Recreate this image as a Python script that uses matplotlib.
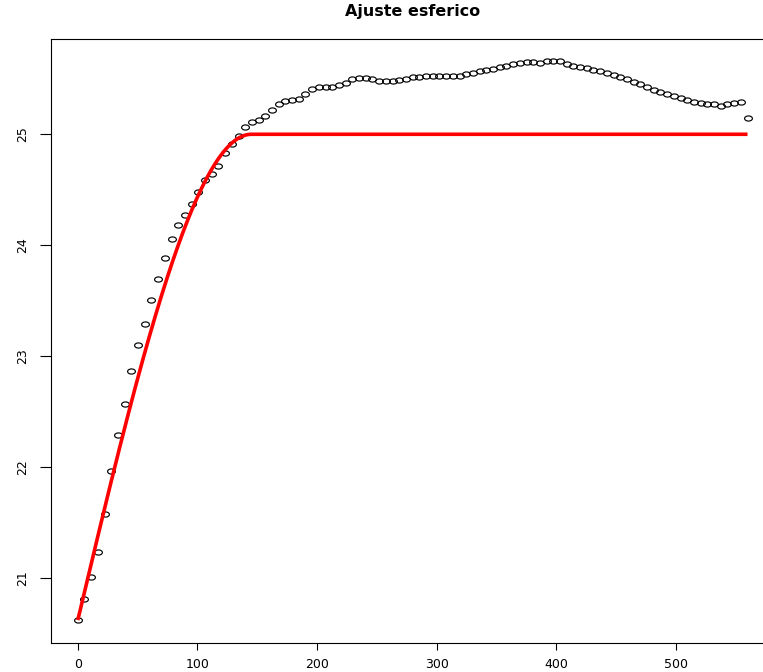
import numpy as np
import matplotlib
matplotlib.use("Agg")
import matplotlib.pyplot as plt
from matplotlib.path import Path

# Empirical semivariogram: lag distances and semivariances
lag = [
    0.0, 5.6, 11.2, 16.8, 22.4, 28.0, 33.6, 39.2, 44.8, 50.4,
    56.0, 61.6, 67.2, 72.8, 78.4, 84.0, 89.6, 95.2, 100.8, 106.4,
    112.0, 117.6, 123.2, 128.8, 134.4, 140.0, 145.6, 151.2, 156.8, 162.4,
    168.0, 173.6, 179.2, 184.8, 190.4, 196.0, 201.6, 207.2, 212.8, 218.4,
    224.0, 229.6, 235.2, 240.8, 246.4, 252.0, 257.6, 263.2, 268.8, 274.4,
    280.0, 285.6, 291.2, 296.8, 302.4, 308.0, 313.6, 319.2, 324.8, 330.4,
    336.0, 341.6, 347.2, 352.8, 358.4, 364.0, 369.6, 375.2, 380.8, 386.4,
    392.0, 397.6, 403.2, 408.8, 414.4, 420.0, 425.6, 431.2, 436.8, 442.4,
    448.0, 453.6, 459.2, 464.8, 470.4, 476.0, 481.6, 487.2, 492.8, 498.4,
    504.0, 509.6, 515.2, 520.8, 526.4, 532.0, 537.6, 543.2, 548.8, 554.4,
    560.0,
]
gamma = [
    20.618, 20.807, 21.009, 21.231, 21.579, 21.964, 22.291, 22.570, 22.870, 23.102,
    23.291, 23.510, 23.696, 23.886, 24.057, 24.186, 24.273, 24.369, 24.480, 24.586,
    24.642, 24.717, 24.829, 24.910, 24.987, 25.063, 25.108, 25.132, 25.165, 25.216,
    25.270, 25.303, 25.309, 25.321, 25.360, 25.405, 25.429, 25.423, 25.423, 25.441,
    25.465, 25.495, 25.507, 25.507, 25.495, 25.480, 25.483, 25.483, 25.486, 25.498,
    25.514, 25.519, 25.525, 25.528, 25.528, 25.528, 25.528, 25.528, 25.541, 25.552,
    25.573, 25.582, 25.591, 25.604, 25.613, 25.631, 25.642, 25.651, 25.651, 25.640,
    25.660, 25.660, 25.658, 25.636, 25.618, 25.606, 25.600, 25.579, 25.568, 25.550,
    25.537, 25.519, 25.498, 25.474, 25.453, 25.423, 25.399, 25.378, 25.360, 25.345,
    25.324, 25.309, 25.288, 25.282, 25.270, 25.270, 25.255, 25.273, 25.279, 25.288,
    25.150,
]

# Fitted spherical model parameters
nugget = 20.62
sill = 25.0
model_range = 145.0
max_lag = 560.0

xticks = [0, 100, 200, 300, 400, 500]
yticks = [21, 22, 23, 24, 25]
title = "Ajuste esferico"


def spherical(h, c0, sill_total, a):
    h = np.asarray(h, dtype=float)
    c = sill_total - c0
    r = np.minimum(h / a, 1.0)
    return c0 + c * (1.5 * r - 0.5 * r ** 3)


h_fit = np.linspace(0.0, max_lag, 800)
gamma_fit = spherical(h_fit, nugget, sill, model_range)

# slightly flattened open circle marker
t = np.linspace(0, 2 * np.pi, 64)
ellipse = Path(np.column_stack([np.cos(t), 0.66 * np.sin(t)]), closed=True)

W, H = 763, 672
fig = plt.figure(figsize=(W / 100, H / 100), dpi=100)
left_px, right_px, top_px, bottom_px = 51.0, 774.3, 38.7, 642.7
ax = fig.add_axes([left_px / W, 1 - bottom_px / H,
                   (right_px - left_px) / W, (bottom_px - top_px) / H])

ax.plot(lag, gamma, linestyle="none", marker=ellipse, markersize=5.6,
        markerfacecolor="none", markeredgecolor="black", markeredgewidth=0.85)
ax.plot(h_fit, gamma_fit, color="red", linewidth=2.6, solid_capstyle="butt")

ax.margins(x=0.04, y=0.04)
ax.set_xticks(xticks)
ax.set_yticks(yticks)
ax.set_xticklabels([str(v) for v in xticks])
ax.set_yticklabels([str(v) for v in yticks])

for sp in ax.spines.values():
    sp.set_color("black")
    sp.set_linewidth(0.8)

ax.tick_params(axis="x", length=5.3, width=0.8, pad=6, labelsize=9)
ax.tick_params(axis="y", length=7.7, width=0.8, pad=8, labelsize=9,
               labelrotation=90)
for lab in ax.get_yticklabels():
    lab.set_verticalalignment("center")

ax.set_title(title, fontsize=11.5, fontweight="bold", pad=16)

fig.savefig("out.png", dpi=100)
